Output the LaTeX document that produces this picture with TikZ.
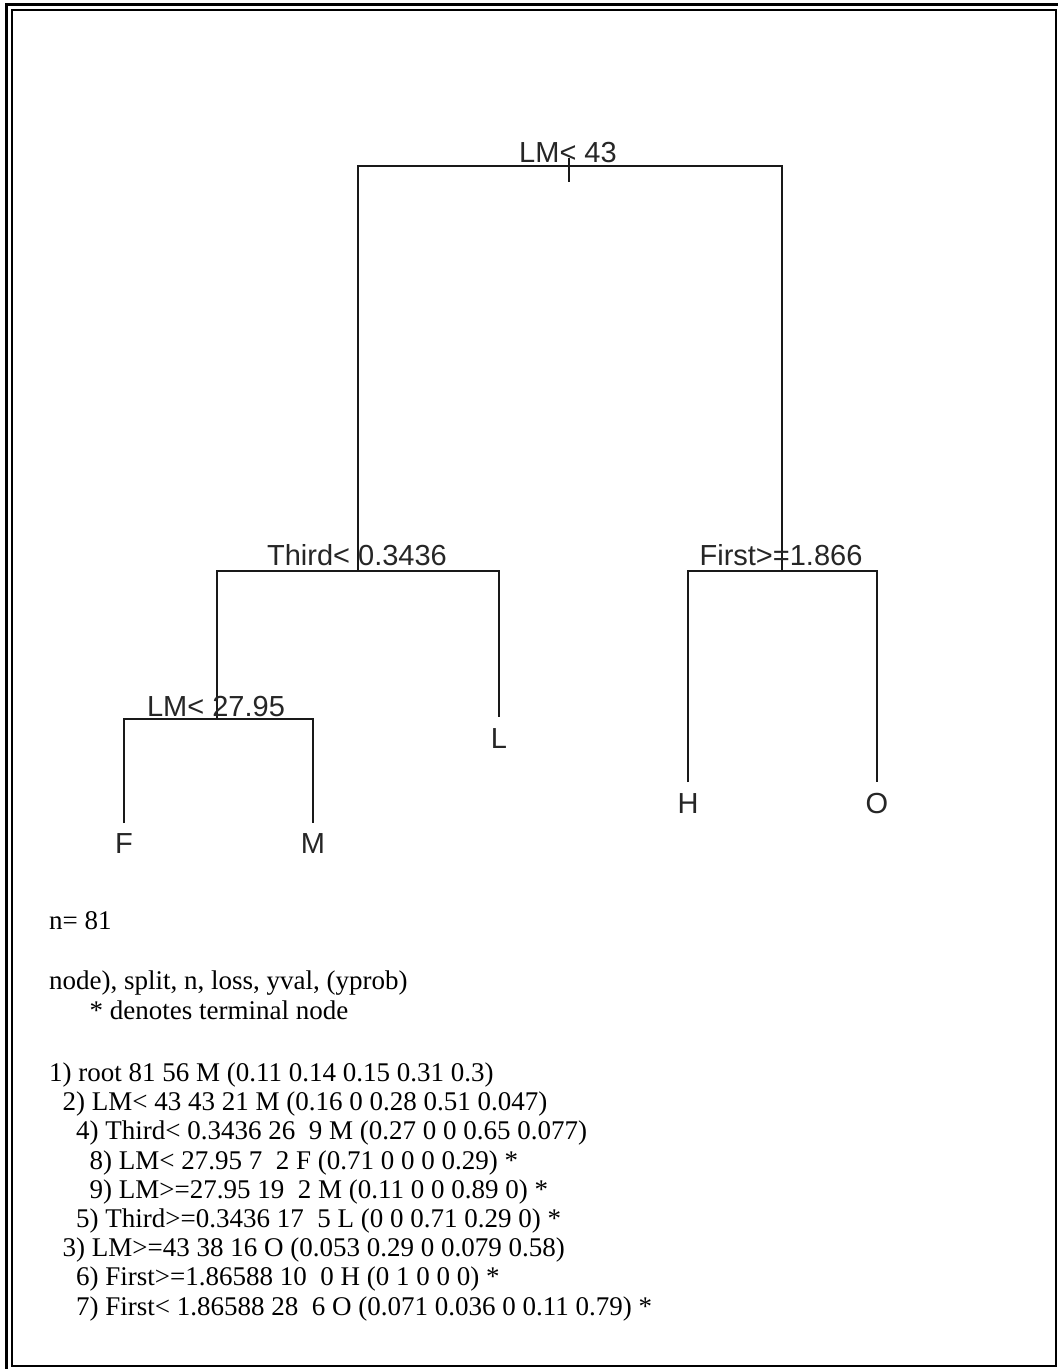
\documentclass[tikz,border=0pt]{standalone}
\usepackage{fontspec}
\setmainfont{Liberation Serif}
\newfontfamily\arialf{Liberation Sans}
\begin{document}
\begin{tikzpicture}[x=1pt,y=-1pt,
  treeline/.style={line width=1.7pt, black!90},
  lbl/.style={font=\arialf\fontsize{29}{30}\selectfont, text=black!85, inner sep=0pt, anchor=base},
  outtxt/.style={font=\fontsize{27}{30}\selectfont, inner sep=0pt, anchor=base west},
  framel/.style={line width=2.2pt}]
\useasboundingbox (0,0) rectangle (1058,1369);
\fill[white] (0,0) rectangle (1058,1369);
% frame
\draw[framel] (6.5,1369) -- (6.5,4.5) -- (1058,4.5);
\draw[framel] (12,10) rectangle (1056,1366);
% tree coordinates
\coordinate (rt) at (569,158);
\coordinate (rb) at (569,182);
\coordinate (rl) at (358,166);
\coordinate (rr) at (782,166);
\coordinate (tc) at (358,571);
\coordinate (tl) at (217,571);
\coordinate (tr) at (499,571);
\coordinate (fc) at (782,571);
\coordinate (fl) at (688,571);
\coordinate (fr) at (877,571);
\coordinate (lc) at (217,719);
\coordinate (ll) at (124,719);
\coordinate (lr) at (313,719);
\coordinate (Fe) at (124,823);
\coordinate (Me) at (313,823);
\coordinate (Le) at (499,717);
\coordinate (He) at (688,782);
\coordinate (Oe) at (877,782);
% tree lines
\draw[treeline] (rt) -- (rb);
\draw[treeline] (tc) -- (rl) -- (rr) -- (fc);
\draw[treeline] (lc) -- (tl) -- (tr) -- (Le);
\draw[treeline] (He) -- (fl) -- (fr) -- (Oe);
\draw[treeline] (Fe) -- (ll) -- (lr) -- (Me);
% split labels
\node[lbl] (s1) at (568,162) {LM< 43};
\node[lbl] (s2) at (357,565) {Third< 0.3436};
\node[lbl] (s3) at (781,565) {First>=1.866};
\node[lbl] (s4) at (216,716) {LM< 27.95};
% leaf labels
\node[lbl] (lF) at (124,853) {F};
\node[lbl] (lM) at (313,853) {M};
\node[lbl] (lL) at (499,748) {L};
\node[lbl] (lH) at (688,813) {H};
\node[lbl] (lO) at (877,813) {O};
% text output
\node[outtxt] (t0) at (49,929) {n= 81};
\node[outtxt] (t1) at (49,989) {node), split, n, loss, yval, (yprob)};
\node[outtxt] (t2) at (89.5,1019) {* denotes terminal node};
\node[outtxt] (r1) at (49,1081) {1) root 81 56 M (0.11 0.14 0.15 0.31 0.3)};
\node[outtxt] (r2) at (62.5,1110) {2) LM< 43 43 21 M (0.16 0 0.28 0.51 0.047)};
\node[outtxt] (r4) at (76,1139) {4) Third< 0.3436 26~~9 M (0.27 0 0 0.65 0.077)};
\node[outtxt] (r8) at (89.5,1169) {8) LM< 27.95 7~~2 F (0.71 0 0 0 0.29) *};
\node[outtxt] (r9) at (89.5,1198) {9) LM>=27.95 19~~2 M (0.11 0 0 0.89 0) *};
\node[outtxt] (r5) at (76,1227) {5) Third>=0.3436 17~~5 L (0 0 0.71 0.29 0) *};
\node[outtxt] (r3) at (62.5,1256) {3) LM>=43 38 16 O (0.053 0.29 0 0.079 0.58)};
\node[outtxt] (r6) at (76,1285) {6) First>=1.86588 10~~0 H (0 1 0 0 0) *};
\node[outtxt] (r7) at (76,1315) {7) First< 1.86588 28~~6 O (0.071 0.036 0 0.11 0.79) *};
\end{tikzpicture}
\end{document}
